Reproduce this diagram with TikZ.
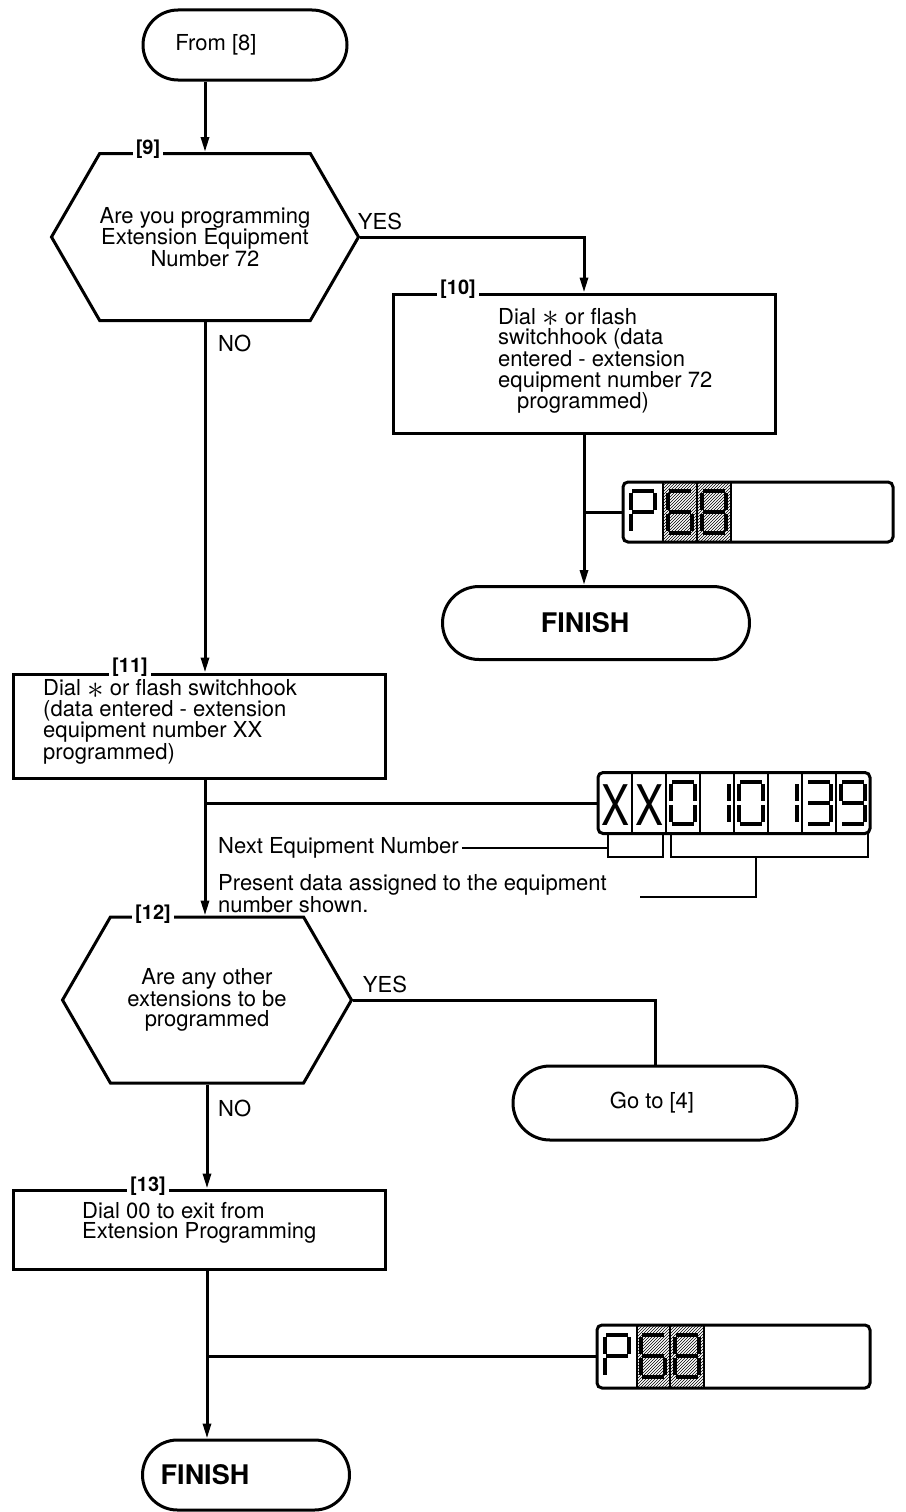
\documentclass[tikz,border=0pt]{standalone}
\usepackage{fontspec}
\setmainfont{TeX Gyre Heros}
\usetikzlibrary{positioning, shapes.misc, shapes.symbols, arrows.meta, patterns}
\tikzset{
	flowline/.style={line width=3pt, -{Triangle[length=15pt,width=8pt]}},
	plainline/.style={line width=3pt},
	leaderline/.style={line width=1.2pt},
	segline/.style={line width=3.8pt},
	procbox/.style={draw, line width=3pt, inner sep=0pt},
	termbox/.style={draw, line width=3pt, rounded rectangle, inner sep=0pt},
	decision/.style={draw, line width=3pt, signal, signal to=west and east, signal pointer angle=120,
		inner sep=0pt, align=center, font=\fontsize{22}{20.5}\selectfont},
	steplabel/.style={fill=white, inner sep=3pt, font=\fontsize{20}{20}\selectfont\bfseries},
	flowtext/.style={inner sep=0pt, align=left, font=\fontsize{22}{20.5}\selectfont},
	finishtext/.style={inner sep=0pt, font=\fontsize{27}{27}\selectfont\bfseries},
	lcdframe/.style={draw, line width=3pt, rounded corners=5pt, inner sep=0pt}
}
\newcommand{\bigast}{\raisebox{-2.5pt}{\scalebox{1.6}{$\ast$}}}
% seven segment digits, x1/y1/x2/y2 for each segment
\newcommand{\digP}{-11/-21/11/-21, 12/-19/12/-2, -12/-19/-12/-2, -12/2/-12/19, -11/0/11/0}
\newcommand{\digsix}{-11/-21/11/-21, -12/-19/-12/-2, -12/2/-12/19, 12/2/12/19, -11/21/11/21, -11/0/11/0}
\newcommand{\digeight}{-11/-21/11/-21, 12/-19/12/-2, 12/2/12/19, -11/21/11/21, -12/2/-12/19, -12/-19/-12/-2, -11/0/11/0}
\newcommand{\digzero}{-11/-21/11/-21, 12/-19/12/-2, 12/2/12/19, -11/21/11/21, -12/2/-12/19, -12/-19/-12/-2}
\newcommand{\digone}{12/-19/12/-2, 12/2/12/19}
\newcommand{\digthree}{-11/-21/11/-21, 12/-19/12/-2, 12/2/12/19, -11/21/11/21, -11/0/11/0}
\newcommand{\dignine}{-11/-21/11/-21, 12/-19/12/-2, 12/2/12/19, -11/21/11/21, -12/-19/-12/-2, -11/0/11/0}
\newcommand{\segdigit}[2]{%
	\foreach \xa/\ya/\xb/\yb in #2 {\draw[segline] ([shift={(#1)}]\xa,\ya) -- ([shift={(#1)}]\xb,\yb);}}

\begin{document}
\begin{tikzpicture}[x=1pt, y=-1pt]
	\useasboundingbox (0,0) rectangle (905,1512);

	% steps
	\node[termbox, minimum width=204pt, minimum height=70pt] (from8) at (245,45) {};
	\node[flowtext] (from8txt) at (216,45) {From [8]};
	\node[decision, minimum width=286pt, minimum height=167pt] (ask9) at (205,237)
		{Are you programming\\Extension Equipment\\Number 72};
	\node[procbox, minimum width=382pt, minimum height=139pt] (dial10) at (584,363.5) {};
	\node[flowtext, anchor=west] (txt10) at (498,361)
		{Dial \bigast{} or flash\\switchhook (data\\entered - extension\\equipment number 72\\\hspace*{19pt}programmed)};
	\node[termbox, minimum width=307pt, minimum height=73pt] (fin10) at (596,623) {};
	\node[finishtext] (fin10txt) at (585,623) {FINISH};
	\node[procbox, minimum width=372pt, minimum height=104pt] (dial11) at (199,726) {};
	\node[flowtext, anchor=west] (txt11) at (43,722)
		{Dial \bigast{} or flash switchhook\\(data entered - extension\\equipment number XX\\programmed)};
	\node[decision, minimum width=289pt, minimum height=166pt] (ask12) at (207,1000)
		{Are any other\\extensions to be\\programmed};
	\node[termbox, minimum width=284pt, minimum height=74pt] (goto4) at (655,1103) {};
	\node[flowtext] (goto4txt) at (652,1103) {Go to [4]};
	\node[procbox, minimum width=372pt, minimum height=79pt] (dial13) at (199,1229.5) {};
	\node[flowtext, anchor=west] (txt13) at (82,1223)
		{Dial 00 to exit from\\Extension Programming};
	\node[termbox, minimum width=207pt, minimum height=70pt] (fin13) at (246,1475) {};
	\node[finishtext] (fin13txt) at (205,1475) {FINISH};

	% step numbers on the top edges
	\node[steplabel] (num9) at (148,149) {[9]};
	\node[steplabel] (num10) at (458,289) {[10]};
	\node[steplabel] (num11) at (130,667) {[11]};
	\node[steplabel] (num12) at (153,914) {[12]};
	\node[steplabel] (num13) at (148,1186) {[13]};

	% displays
	\fill[pattern=north east lines] (663,482) rectangle (731,542);
	\node[lcdframe, minimum width=270pt, minimum height=60pt] (lcd10) at (758,512) {};
	\draw[leaderline] (663,482) -- (663,542) (697,482) -- (697,542) (731,482) -- (731,542);
	\segdigit{643,512}{\digP}
	\segdigit{680,512}{\digsix}
	\segdigit{714,512}{\digeight}

	\node[lcdframe, minimum width=272pt, minimum height=61pt] (lcd11) at (734,803) {};
	\foreach \xc in {632,666,700,734,768,802,836}
		\draw[leaderline] (\xc,772) -- (\xc,833);
	\node[xscale=0.75, inner sep=0pt, font=\fontsize{56}{56}\selectfont] (lcdx1) at (615,805) {X};
	\node[xscale=0.75, inner sep=0pt, font=\fontsize{56}{56}\selectfont] (lcdx2) at (649,805) {X};
	\segdigit{683,803}{\digzero}
	\segdigit{717,803}{\digone}
	\segdigit{751,803}{\digzero}
	\segdigit{785,803}{\digone}
	\segdigit{819,803}{\digthree}
	\segdigit{853,803}{\dignine}

	\fill[pattern=north east lines] (637,1325) rectangle (704,1388);
	\node[lcdframe, minimum width=273pt, minimum height=63pt] (lcd13) at (733.5,1356.5) {};
	\draw[leaderline] (637,1325) -- (637,1388) (670,1325) -- (670,1388) (704,1325) -- (704,1388);
	\segdigit{617,1356}{\digP}
	\segdigit{653,1356}{\digsix}
	\segdigit{687,1356}{\digeight}

	% connectors
	\draw[flowline] (ask9.north |- from8.south) -- (ask9.north);
	\draw[flowline] (ask9.east) -| (dial10.north);
	\node[flowtext] (yes9) at (380,221) {YES};
	\draw[flowline] (dial10.south) -- (dial10.south |- fin10.north);
	\draw[plainline] (dial10.south |- lcd10.west) -- (lcd10.west);
	\draw[flowline] (ask9.south) -- (ask9.south |- dial11.north);
	\node[flowtext, anchor=west] (no9) at (218,343) {NO};
	\draw[flowline] (ask9.south |- dial11.south) -- (ask9.south |- ask12.north);
	\draw[plainline] (ask9.south |- lcd11.west) -- (lcd11.west);
	\draw[plainline] (ask12.east) -| (goto4.north);
	\node[flowtext] (yes12) at (385,984) {YES};
	\draw[flowline] (ask12.south) -- (ask12.south |- dial13.north);
	\node[flowtext, anchor=west] (no12) at (218,1108) {NO};
	\draw[flowline] (ask12.south |- dial13.south) -- (ask12.south |- fin13.north);
	\draw[plainline] (ask12.south |- lcd13.west) -- (lcd13.west);

	% what the second display shows
	\node[flowtext, anchor=west] (nexteq) at (218,848) {Next Equipment Number};
	\node[flowtext, anchor=north west] (present) at (218,874)
		{Present data assigned to the equipment\\number shown.};
	\draw[leaderline] (608,833) -- (608,857) -- (663,857) -- (663,833);
	\draw[leaderline] (671,833) -- (671,857) -- (868,857) -- (868,833);
	\draw[leaderline] (nexteq.east) ++(3,0) -- (608,848);
	\draw[leaderline] (756,857) -- (756,897) -- (640,897);
\end{tikzpicture}
\end{document}
